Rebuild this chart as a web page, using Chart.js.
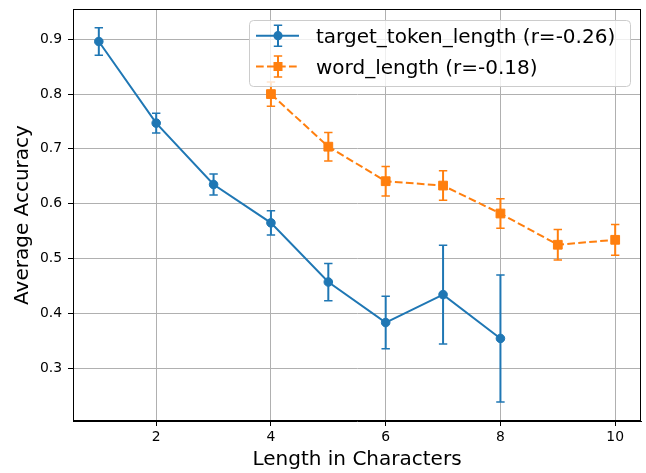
<!DOCTYPE html>
<html>
<head>
<meta charset="utf-8">
<script src="https://cdn.jsdelivr.net/npm/chart.js@4"></script>
<style>
html,body{margin:0;padding:0;background:#fff;}
#c{display:block;}
</style>
</head>
<body>
<canvas id="c" width="646" height="473"></canvas>
<script>
// ---- data ----
const tokenX = [1, 2, 3, 4, 5, 6, 7, 8];
const tokenMean = [0.896, 0.747, 0.635, 0.565, 0.457, 0.383, 0.434, 0.354];
const tokenErr = [0.025, 0.018, 0.019, 0.022, 0.034, 0.048, 0.090, 0.116];
const wordX = [4, 5, 6, 7, 8, 9, 10];
const wordMean = [0.800, 0.704, 0.641, 0.633, 0.582, 0.525, 0.534];
const wordErr = [0.022, 0.026, 0.027, 0.027, 0.027, 0.028, 0.028];
const seriesNames = ['target_token_length (r=-0.26)', 'word_length (r=-0.18)'];
const xTicks = [2, 4, 6, 8, 10];
const yTicks = [0.3, 0.4, 0.5, 0.6, 0.7, 0.8, 0.9];

const BLUE = '#1f77b4', ORANGE = '#ff7f0e';
const FONT = "'DejaVu Sans', sans-serif";
const DASH = [7.7, 3.3];

const errors = [tokenErr, wordErr];

const errorBarPlugin = {
  id: 'errorBars',
  beforeDatasetsDraw(chart) {
    const ctx = chart.ctx;
    const xs = chart.scales.x, ys = chart.scales.y;
    chart.data.datasets.forEach((ds, i) => {
      const err = errors[i];
      ctx.save();
      ctx.strokeStyle = ds.borderColor;
      ds.data.forEach((p, j) => {
        const px = xs.getPixelForValue(p.x);
        const top = ys.getPixelForValue(p.y + err[j]);
        const bot = ys.getPixelForValue(p.y - err[j]);
        ctx.lineWidth = 2;
        ctx.beginPath();
        ctx.moveTo(px, top); ctx.lineTo(px, bot);
        ctx.stroke();
        ctx.lineWidth = 1.5;
        ctx.beginPath();
        ctx.moveTo(px - 4.2, top); ctx.lineTo(px + 4.2, top);
        ctx.moveTo(px - 4.2, bot); ctx.lineTo(px + 4.2, bot);
        ctx.stroke();
      });
      ctx.restore();
    });
  },
  afterDatasetsDraw(chart) {
    const ctx = chart.ctx, a = chart.chartArea;
    ctx.save();
    ctx.strokeStyle = '#000';
    ctx.lineWidth = 1;
    ctx.strokeRect(Math.round(a.left) + 0.5, Math.round(a.top) + 0.5,
                   Math.round(a.right - a.left) - 1, Math.round(a.bottom - a.top) - 1);
    ctx.restore();
  },
  afterDraw(chart) {
    const ctx = chart.ctx, a = chart.chartArea;
    const L = 249.5, T = 20.5, R = a.right - 10.5, B = 86.5, r = 4;
    ctx.save();
    ctx.beginPath();
    ctx.moveTo(L + r, T);
    ctx.lineTo(R - r, T); ctx.arcTo(R, T, R, T + r, r);
    ctx.lineTo(R, B - r); ctx.arcTo(R, B, R - r, B, r);
    ctx.lineTo(L + r, B); ctx.arcTo(L, B, L, B - r, r);
    ctx.lineTo(L, T + r); ctx.arcTo(L, T, L + r, T, r);
    ctx.closePath();
    ctx.fillStyle = 'rgba(255,255,255,0.8)';
    ctx.fill();
    ctx.strokeStyle = '#cccccc';
    ctx.lineWidth = 1;
    ctx.stroke();
    const rows = [35.7, 66.5];
    chart.data.datasets.forEach((ds, i) => {
      const y = rows[i];
      ctx.strokeStyle = ds.borderColor;
      ctx.fillStyle = ds.borderColor;
      ctx.lineWidth = 2;
      ctx.setLineDash(ds.borderDash || []);
      ctx.beginPath();
      ctx.moveTo(256, y); ctx.lineTo(299, y);
      ctx.stroke();
      ctx.setLineDash([]);
      const mx = 278;
      ctx.beginPath();
      ctx.moveTo(mx, y - 10.5); ctx.lineTo(mx, y + 10.5);
      ctx.stroke();
      ctx.lineWidth = 1.5;
      ctx.beginPath();
      ctx.moveTo(mx - 4.2, y - 10.5); ctx.lineTo(mx + 4.2, y - 10.5);
      ctx.moveTo(mx - 4.2, y + 10.5); ctx.lineTo(mx + 4.2, y + 10.5);
      ctx.stroke();
      if (ds.pointStyle === 'rect') {
        ctx.fillRect(mx - 4.5, y - 4.5, 9, 9);
      } else {
        ctx.beginPath(); ctx.arc(mx, y, 4.6, 0, Math.PI * 2); ctx.fill();
      }
      ctx.fillStyle = '#000';
      ctx.font = '20px ' + FONT;
      ctx.textBaseline = 'alphabetic';
      ctx.textAlign = 'left';
      ctx.fillText(ds.label, 316, y + 7.5);
    });
    ctx.restore();
  }
};

new Chart(document.getElementById('c'), {
  type: 'line',
  data: {
    datasets: [
      {
        label: seriesNames[0],
        data: tokenX.map((x, i) => ({x, y: tokenMean[i]})),
        borderColor: BLUE, backgroundColor: BLUE,
        pointBackgroundColor: BLUE, pointBorderColor: BLUE,
        borderWidth: 2, pointRadius: 4.3, pointBorderWidth: 1,
        pointStyle: 'circle', tension: 0, fill: false
      },
      {
        label: seriesNames[1],
        data: wordX.map((x, i) => ({x, y: wordMean[i]})),
        borderColor: ORANGE, backgroundColor: ORANGE,
        pointBackgroundColor: ORANGE, pointBorderColor: ORANGE,
        borderWidth: 2, borderDash: DASH, pointRadius: 6.2, pointBorderWidth: 1,
        pointStyle: 'rect', tension: 0, fill: false
      }
    ]
  },
  options: {
    responsive: false,
    animation: false,
    devicePixelRatio: 1,
    layout: {autoPadding: false, padding: {left: 0, right: 5, top: 9, bottom: 0}},
    plugins: {legend: {display: false}, tooltip: {enabled: false}},
    scales: {
      x: {
        type: 'linear',
        min: 0.55, max: 10.45,
        afterFit: s => { s.height = 52; s.paddingLeft = 0; s.paddingRight = 0; },
        afterBuildTicks: s => { s.ticks = xTicks.map(v => ({value: v})); },
        grid: {color: '#b0b0b0', lineWidth: 1, tickColor: '#000', tickLength: 5, drawTicks: true},
        border: {display: true, color: '#000', width: 1},
        ticks: {color: '#000', font: {family: FONT, size: 13.9}, padding: 3, maxRotation: 0,
                callback: v => String(v)},
        title: {display: true, text: 'Length in Characters', color: '#000',
                font: {family: FONT, size: 20, lineHeight: 1}, padding: {top: 0, bottom: 3}}
      },
      y: {
        type: 'linear',
        min: 0.2033, max: 0.9553,
        afterFit: s => { s.width = 73; s.paddingTop = 0; s.paddingBottom = 0; },
        afterBuildTicks: s => { s.ticks = yTicks.map(v => ({value: v})); },
        grid: {color: '#b0b0b0', lineWidth: 1, tickColor: '#000', tickLength: 5, drawTicks: true},
        border: {display: true, color: '#000', width: 1},
        ticks: {color: '#000', font: {family: FONT, size: 13.9}, padding: 6,
                callback: v => Number(v).toFixed(1)},
        title: {display: true, text: 'Average Accuracy', color: '#000',
                font: {family: FONT, size: 20, lineHeight: 1}, padding: {top: 13, bottom: 0}}
      }
    }
  },
  plugins: [errorBarPlugin]
});
</script>
</body>
</html>
